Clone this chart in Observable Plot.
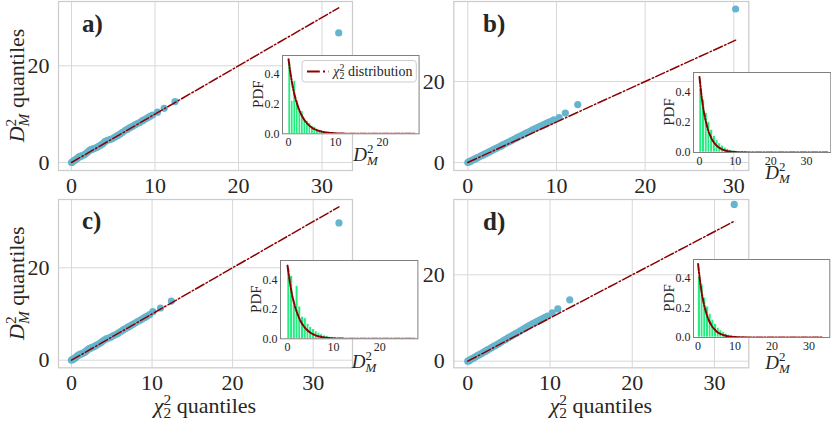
<!DOCTYPE html>
<html><head><meta charset="utf-8">
<script src="https://cdn.jsdelivr.net/npm/d3@7"></script>
<script src="https://cdn.jsdelivr.net/npm/@observablehq/plot@0.6"></script>
<style>
body{margin:0;background:#fff;}
#wrap{position:relative;width:831px;height:423px;overflow:hidden;background:#fff;}
</style></head><body><div id="wrap"></div>
<script>
// ---------------- data ----------------
const PANEL_LABELS = ["a)", "b)", "c)", "d)"];
const MAIN_X_TICKS = [0, 10, 20, 30];
const MAIN_Y_TICKS = [0, 20];
const INSET_X_TICKS = [[0, 10, 20], [0, 10, 20, 30], [0, 10, 20], [0, 10, 20, 30]];
const INSET_Y_TICKS = [0, 0.2, 0.4];

// QQ points: chi2_2 quantiles (x) vs D_M^2 quantiles (y)
const QA_X = [0.0,0.1,0.2,0.3,0.45,0.6,0.75,0.9,1.05,1.2,1.4,1.6,1.8,2.0,2.2,2.4,2.6,2.8,3.0,3.25,3.5,3.75,4.0,4.3,4.6,4.9,5.2,5.5,5.8,6.1,6.4,6.7,7.0,7.3,7.6,7.9,8.2,8.5,8.8,9.1,9.4,9.7,10.3,11.1,12.4,32.0];
const QA_Y = [0.0,0.1,0.25,0.4,0.55,0.75,0.95,1.15,1.25,1.35,1.5,1.7,1.95,2.25,2.55,2.7,2.8,2.95,3.1,3.35,3.6,3.9,4.3,4.6,4.75,4.95,5.25,5.55,5.85,6.25,6.6,6.9,7.2,7.5,7.8,8.05,8.3,8.65,8.95,9.25,9.55,9.8,10.4,11.2,12.6,26.8];
const QB_X = [0.0,0.1,0.2,0.3,0.45,0.6,0.75,0.9,1.05,1.2,1.4,1.6,1.8,2.0,2.2,2.4,2.6,2.8,3.0,3.25,3.5,3.75,4.0,4.3,4.6,4.9,5.2,5.5,5.8,6.1,6.4,6.7,7.0,7.3,7.6,7.9,8.2,8.5,8.8,9.1,9.4,9.7,10.3,11.0,12.4,30.2];
const QB_Y = [0.0,0.11,0.22,0.33,0.5,0.65,0.82,0.98,1.15,1.3,1.52,1.74,1.96,2.18,2.4,2.62,2.84,3.06,3.28,3.56,3.82,4.1,4.4,4.74,5.06,5.4,5.72,6.06,6.4,6.72,7.06,7.4,7.72,8.05,8.4,8.7,9.0,9.28,9.58,9.9,10.18,10.5,11.1,12.2,14.3,37.9];
const QC_X = [0.0,0.1,0.2,0.3,0.45,0.6,0.75,0.9,1.05,1.2,1.4,1.6,1.8,2.0,2.2,2.4,2.6,2.8,3.0,3.25,3.5,3.75,4.0,4.3,4.6,4.9,5.2,5.5,5.8,6.1,6.4,6.7,7.0,7.3,7.6,7.9,8.2,8.5,8.8,9.1,9.4,9.7,10.1,11.05,12.4,33.2];
const QC_Y = [0.0,0.12,0.22,0.35,0.5,0.7,0.95,1.15,1.25,1.35,1.5,1.68,1.95,2.25,2.5,2.65,2.8,2.95,3.15,3.4,3.65,3.95,4.3,4.6,4.8,5.0,5.3,5.55,5.85,6.2,6.55,6.85,7.15,7.45,7.75,8.05,8.35,8.65,8.95,9.25,9.55,9.85,10.5,11.3,12.8,29.7];
const QD_X = [0.0,0.1,0.2,0.3,0.45,0.6,0.75,0.9,1.05,1.2,1.4,1.6,1.8,2.0,2.2,2.4,2.6,2.8,3.0,3.25,3.5,3.75,4.0,4.3,4.6,4.9,5.2,5.5,5.8,6.1,6.4,6.7,7.0,7.3,7.6,7.9,8.2,8.5,8.8,9.1,9.4,9.7,10.27,10.95,12.4,32.4];
const QD_Y = [0.0,0.1,0.22,0.32,0.48,0.64,0.8,0.97,1.13,1.28,1.5,1.72,1.94,2.16,2.38,2.6,2.82,3.04,3.26,3.54,3.8,4.08,4.38,4.72,5.05,5.38,5.7,6.04,6.38,6.7,7.04,7.38,7.7,8.04,8.38,8.68,8.98,9.26,9.56,9.86,10.14,10.44,11.2,12.1,14.2,36.3];
// reference line y = x end points
const LINE_END = [32.0, 30.2, 33.2, 32.4];

// inset histograms (density per bin)
const BIN_WIDTH = [0.536, 0.758, 0.594, 0.726];
const HIST_A = [0.47,0.22,0.355,0.22,0.155,0.15,0.10,0.085,0.07,0.05,0.045,0.03,0.025,0.02,0.012,0.01,0.008,0.006,0.004,0.004,0.002,0.002,0.001,0,0.001];
const HIST_B = [0.42,0.35,0.26,0.20,0.15,0.11,0.08,0.06,0.045,0.032,0.022,0.016,0.011,0.008,0.005,0.004,0.003,0.002,0.001,0.001];
const HIST_C = [0.48,0.43,0.23,0.36,0.22,0.15,0.14,0.10,0.08,0.065,0.05,0.04,0.03,0.022,0.018,0.012,0.01,0.007,0.005,0.004,0.003,0.002,0.001,0.001,0,0.001];
const HIST_D = [0.41,0.36,0.27,0.21,0.16,0.12,0.09,0.065,0.048,0.035,0.025,0.018,0.012,0.009,0.006,0.004,0.003,0.002,0.001,0.001];
// chi2_2 pdf curve
const PDF_X = [0,0.5,1,1.5,2,2.5,3,3.5,4,5,6,7,8,9,10,12,14,17,20,25,30,36];
const PDF_Y = [0.5,0.39,0.30,0.235,0.185,0.143,0.112,0.087,0.068,0.041,0.025,0.015,0.009,0.0056,0.0034,0.0012,0.0005,0.0001,0,0,0,0];
const PDF_END = [26.8, 35.9, 27.8, 33.6];

// ---------------- style / layout ----------------
const FONT = '"Liberation Serif","Times New Roman","DejaVu Serif",serif';
const INK = "#262626", GRID = "#d8d8d8", FRAME = "#cccccc", POINT = "#64b5cd", RED = "#8b0000", GREEN = "#22ee80";

const MAIN_LAYOUT = [
  {left:0,   top:0,   w:420, h:200, ml:58,   mr:68,   mt:1, mb:30,   xd:[-1.557,33.65], yd:[-1.655,33.30]},
  {left:400, top:0,   w:431, h:200, ml:53.3, mr:82.7, mt:1, mb:30,   xd:[-1.579,31.69], yd:[-1.975,39.75]},
  {left:0,   top:195, w:420, h:228, ml:58,   mr:68,   mt:4, mb:55.7, xd:[-1.613,34.88], yd:[-1.645,34.78]},
  {left:400, top:195, w:431, h:228, ml:53.3, mr:82.7, mt:4, mb:55.7, xd:[-1.70,34.17],  yd:[-1.53,37.43]}
];
const LABEL_POS = [[82,32],[483,32],[82,229],[483,230]];
const INSET_LAYOUT = [
  {fl:281.7, ft:55,    fw:136.6, fh:78.3, xd:[-1.28,27.8], yd:[0,0.525], lab:[353,161]},
  {fl:692.7, ft:71.7,  fw:137.3, fh:80,   xd:[-1.68,36.8], yd:[0,0.53],  lab:[765,179]},
  {fl:280.3, ft:260,   fw:137.4, fh:78.3, xd:[-1.52,28.3], yd:[0,0.535], lab:[352,368]},
  {fl:692.7, ft:259.3, fw:136.3, fh:78,   xd:[-1.24,35.6], yd:[0,0.53],  lab:[765,369]}
];

const wrap = document.getElementById("wrap");
function place(svg, left, top) {
  svg.style.position = "absolute";
  svg.style.left = left + "px";
  svg.style.top = top + "px";
  svg.style.maxWidth = "none";
  wrap.appendChild(svg);
  return svg;
}
function mathText(sel, o) {
  const t = sel.append("text")
    .attr("transform", `translate(${o.x},${o.y}) rotate(${o.rotate || 0})`)
    .attr("font-size", o.size).attr("text-anchor", o.anchor || "start")
    .attr("fill", INK).attr("font-family", FONT)
    .style("white-space", "pre");
  if (o.weight) t.attr("font-weight", o.weight);
  for (const p of o.parts) {
    const s = t.append("tspan").text(p.t);
    if (p.dx) s.attr("dx", p.dx);
    if (p.dy) s.attr("dy", p.dy);
    if (p.i) s.attr("font-style", "italic");
    if (p.s) s.attr("font-size", p.s);
  }
  return t;
}
const DM_QUANT = [{t:"D",i:1},{t:"2",s:15.4,dy:-8},{t:"M",i:1,s:15.4,dx:-7.7,dy:13},{t:" quantiles",dy:-5}];
const CHI_QUANT = [{t:"χ",i:1},{t:"2",s:15.4,dy:-8},{t:"2",s:15.4,dx:-7.7,dy:13},{t:" quantiles",dy:-5}];
const DM_SMALL = [{t:"D",i:1},{t:"2",s:13,dy:-8},{t:"M",i:1,s:13,dx:-6.5,dy:12}];

// ---------------- main panels ----------------
const QQ = [[QA_X,QA_Y],[QB_X,QB_Y],[QC_X,QC_Y],[QD_X,QD_Y]];
MAIN_LAYOUT.forEach((L, i) => {
  const pts = QQ[i][0].map((x, j) => ({x, y: QQ[i][1][j]}));
  const ref = [{x:0, y:0}, {x:LINE_END[i], y:LINE_END[i]}];
  const svg = Plot.plot({
    width: L.w, height: L.h,
    marginLeft: L.ml, marginRight: L.mr, marginTop: L.mt, marginBottom: L.mb,
    x: {domain: L.xd, label: null},
    y: {domain: L.yd, label: null},
    style: {background: "transparent", fontFamily: FONT, fontSize: "22px", color: INK, overflow: "visible"},
    marks: [
      Plot.gridX(MAIN_X_TICKS, {stroke: GRID, strokeOpacity: 1, strokeWidth: 1}),
      Plot.gridY(MAIN_Y_TICKS, {stroke: GRID, strokeOpacity: 1, strokeWidth: 1}),
      Plot.frame({stroke: FRAME, strokeWidth: 1.25}),
      Plot.dot(pts, {x: "x", y: "y", r: 3.6, fill: POINT}),
      Plot.line(ref, {x: "x", y: "y", stroke: RED, strokeWidth: 1.5, strokeDasharray: "9.6,2.4,1.5,2.4"}),
      Plot.axisX(MAIN_X_TICKS, {tickSize: 0, tickPadding: 7, fontFamily: FONT}),
      Plot.axisY(MAIN_Y_TICKS, {tickSize: 0, tickPadding: 9, fontFamily: FONT})
    ]
  });
  place(svg, L.left, L.top);
  const s = d3.select(svg);
  mathText(s, {x: LABEL_POS[i][0] - L.left, y: LABEL_POS[i][1] - L.top, size: 25, weight: "bold", parts: [{t: PANEL_LABELS[i]}]});
  const fx = L.ml, fy = L.mt, fw = L.w - L.ml - L.mr, fh = L.h - L.mt - L.mb;
  if (i % 2 === 0) {
    mathText(s, {x: 24 - L.left, y: fy + fh / 2, size: 22, rotate: -90, anchor: "middle", parts: DM_QUANT});
  }
  if (i >= 2) {
    mathText(s, {x: fx + fw / 2, y: 413 - L.top, size: 22, anchor: "middle", parts: CHI_QUANT});
  }
});

// ---------------- insets ----------------
const HISTS = [HIST_A, HIST_B, HIST_C, HIST_D];
INSET_LAYOUT.forEach((I, i) => {
  const ml = 45, mr = 30, mt = 4, mb = 44;
  const bw = BIN_WIDTH[i];
  const bins = HISTS[i].map((h, k) => ({x1: k * bw, x2: (k + 1) * bw, y1: 0, y2: h}));
  const pdf = PDF_X.map((x, k) => ({x, y: PDF_Y[k]})).filter(d => d.x < PDF_END[i]);
  pdf.push({x: PDF_END[i], y: 0});
  const svg = Plot.plot({
    width: ml + I.fw + mr, height: mt + I.fh + mb,
    marginLeft: ml, marginRight: mr, marginTop: mt, marginBottom: mb,
    x: {domain: I.xd, label: null},
    y: {domain: I.yd, label: null},
    style: {background: "transparent", fontFamily: FONT, fontSize: "12px", color: INK, overflow: "visible"},
    marks: [
      Plot.frame({fill: "white", stroke: "none"}),
      Plot.rect(bins, {x1: "x1", x2: "x2", y1: "y1", y2: "y2", fill: GREEN, stroke: "white", strokeWidth: 0.6}),
      Plot.line(pdf, {x: "x", y: "y", curve: "monotone-x", stroke: RED, strokeWidth: 2, strokeDasharray: "6.4,1.6,1.6,1.6", clip: true}),
      Plot.frame({stroke: "#808080", strokeWidth: 1}),
      Plot.axisX(INSET_X_TICKS[i], {tickSize: 0, tickPadding: 3.5, fontFamily: FONT}),
      Plot.axisY(INSET_Y_TICKS, {tickSize: 0, tickPadding: 3, tickFormat: d3.format(".1f"), fontFamily: FONT})
    ]
  });
  const left = I.fl - ml, top = I.ft - mt;
  place(svg, left, top);
  const s = d3.select(svg);
  mathText(s, {x: ml - 19.5, y: mt + I.fh / 2, size: 15, rotate: -90, anchor: "middle", parts: [{t: "PDF"}]});
  mathText(s, {x: I.lab[0] - left, y: I.lab[1] - top, size: 19, parts: DM_SMALL});
  if (i === 0) {
    const g = s.append("g");
    g.append("rect").attr("x", 301.7 - left).attr("y", 60.5 - top).attr("width", 114.3).attr("height", 21.5)
      .attr("rx", 3).attr("fill", "white").attr("fill-opacity", 0.85).attr("stroke", "#cccccc");
    g.append("line").attr("x1", 306.7 - left).attr("x2", 328.3 - left).attr("y1", 71.5 - top).attr("y2", 71.5 - top)
      .attr("stroke", RED).attr("stroke-width", 2).attr("stroke-dasharray", "12.8,3.2,2,3.2");
    mathText(g, {x: 333 - left, y: 76.5 - top, size: 14,
      parts: [{t:"χ",i:1},{t:"2",s:10,dy:-6},{t:"2",s:10,dx:-5,dy:9},{t:" distribution",dy:-3}]});
  }
});
</script>
</body></html>
